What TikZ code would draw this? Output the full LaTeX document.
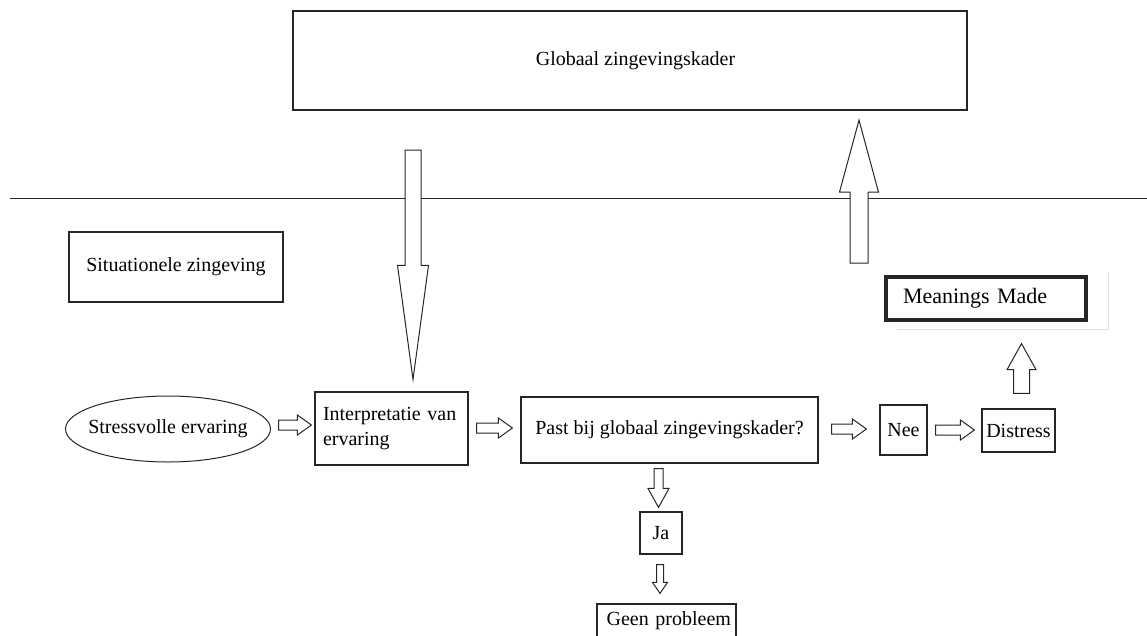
\documentclass[tikz,border=0pt]{standalone}
\usepackage{fontspec}
\setmainfont{Liberation Serif}
\usepackage{tikz}
\usetikzlibrary{calc,shapes.geometric}
\newcommand\blockarrow[5]{%
  \path (#1) coordinate (ba-s);
  \path (#2) coordinate (ba-e);
  \path ($(ba-e)!#5!(ba-s)$) coordinate (ba-h);
  \draw[barrow] ($(ba-s)!#3!90:(ba-e)$) -- ($(ba-h)!#3!90:(ba-e)$) -- ($(ba-h)!#4!90:(ba-e)$) -- (ba-e)
    -- ($(ba-h)!#4!-90:(ba-e)$) -- ($(ba-h)!#3!-90:(ba-e)$) -- ($(ba-s)!#3!-90:(ba-e)$) -- cycle;}

\begin{document}
\begin{tikzpicture}[x=1pt,y=-1pt,
    every node/.style={font=\fontsize{20}{25}\selectfont, inner sep=0pt},
    box/.style={draw=black!85, line width=1.2pt, fill=white},
    barrow/.style={draw=black!85, line width=1pt, fill=white}]
            \useasboundingbox (0,0) rectangle (1147,635);
            \draw[black!85, line width=1pt] (10,198.5) -- (1147,198.5);
            \node[box, minimum width=674pt, minimum height=99pt] (GZ) at (630,60.5) {\hspace{11pt}Globaal zingevingskader};
            \node[box, minimum width=214pt, minimum height=70pt] (SZ) at (176,267) {Situationele zingeving};
            \node[ellipse, draw=black!85, line width=1pt, inner xsep=-8pt, minimum width=205pt, minimum height=66pt] (SE) at (168,429) {Stressvolle ervaring};
            \node[box, minimum width=153pt, minimum height=73pt, text width=137pt, align=left] (IE) at (391.5,428.5) {Interpretatie van\\ervaring};
            \node[box, minimum width=297pt, minimum height=66pt] (PB) at (669.5,430) {Past bij globaal zingevingskader?};
            \node[box, minimum width=47pt, minimum height=50pt] (Nee) at (903.5,430) {Nee};
            \node[box, minimum width=73pt, minimum height=43pt] (Dis) at (1018.5,430.5) {Distress};
            \draw[black!12, line width=0.8pt] (1108,272) -- (1108,329) -- (897,329);
            \node[box, line width=3.3pt, minimum width=200pt, minimum height=43pt, text width=166pt, align=left, font=\fontsize{22}{26}\selectfont] (MM) at (986,298.5) {Meanings Made};
            \node[box, minimum width=42pt, minimum height=42pt] (Ja) at (661,533) {Ja};
            \node[box, minimum width=139pt, minimum height=33pt, text width=129pt, align=right] (GP) at (666.5,620.5) {Geen probleem};
            \coordinate (top) at (413,150);
            \coordinate (bot) at (859,263);
            \blockarrow{top}{$(IE.north)+(21.5,-12)$}{8pt}{15.5pt}{114pt}
            \blockarrow{bot}{$(GZ.south)+(229,9.5)$}{9pt}{19.5pt}{72pt}
            \blockarrow{$(SE.east)+(7.5,-4)$}{$(IE.west)+(-3,-3.5)$}{5pt}{10pt}{14pt}
            \blockarrow{$(IE.east)+(8,-0.5)$}{$(PB.west)+(-8,-2)$}{5pt}{10pt}{14pt}
            \blockarrow{$(PB.east)+(13,-1)$}{$(Nee.west)+(-13,-1)$}{5pt}{10pt}{14pt}
            \blockarrow{$(Nee.east)+(8,0)$}{$(Dis.west)+(-7,-0.5)$}{5pt}{10pt}{14pt}
            \blockarrow{$(Dis.north)+(3,-15)$}{$(MM.south)+(35.5,22)$}{8pt}{14.5pt}{26pt}
            \blockarrow{$(PB.south)+(-11,5)$}{$(Ja.north)+(-2.5,-4)$}{4.5pt}{10.5pt}{19pt}
            \blockarrow{$(Ja.south)+(-1,10)$}{$(GP.north)+(-6.5,-10)$}{3.5pt}{7.5pt}{11pt}
\end{tikzpicture}
\end{document}
